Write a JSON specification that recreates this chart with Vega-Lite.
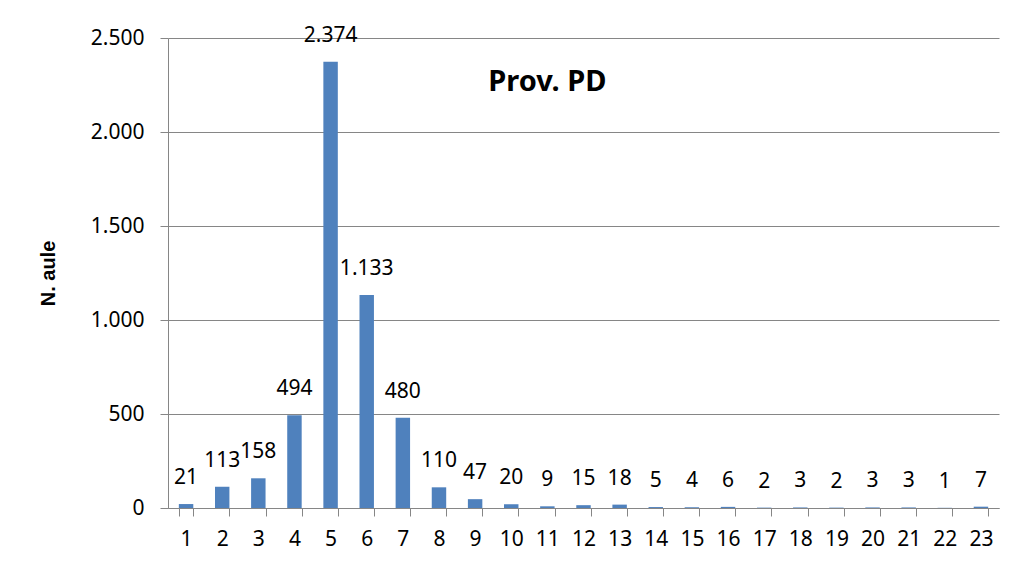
{
  "$schema": "https://vega.github.io/schema/vega-lite/v6.json",
  "width": 831,
  "height": 470,
  "autosize": {"type": "none"},
  "padding": {"left": 168, "top": 38, "right": 14, "bottom": 62},
  "background": "white",
  "config": {
    "locale": {"number": {"decimal": ",", "thousands": ".", "grouping": [3], "currency": ["€", ""]}},
    "view": {"stroke": null},
    "font": "Noto Sans"
  },
  "data": {"values": [
    {"n": 1, "v": 21}, {"n": 2, "v": 113}, {"n": 3, "v": 158}, {"n": 4, "v": 494},
    {"n": 5, "v": 2374}, {"n": 6, "v": 1133}, {"n": 7, "v": 480}, {"n": 8, "v": 110},
    {"n": 9, "v": 47}, {"n": 10, "v": 20}, {"n": 11, "v": 9}, {"n": 12, "v": 15},
    {"n": 13, "v": 18}, {"n": 14, "v": 5}, {"n": 15, "v": 4}, {"n": 16, "v": 6},
    {"n": 17, "v": 2}, {"n": 18, "v": 3}, {"n": 19, "v": 2}, {"n": 20, "v": 3},
    {"n": 21, "v": 3}, {"n": 22, "v": 1}, {"n": 23, "v": 7}
  ]},
  "encoding": {
    "x": {
      "field": "n", "type": "ordinal",
      "scale": {"paddingInner": 0.6, "paddingOuter": 0.3},
      "axis": {
        "title": null, "labelAngle": 0, "tickBand": "extent", "grid": false,
        "domainColor": "#868686", "tickColor": "#868686", "tickSize": 8,
        "labelFontSize": 21, "labelColor": "black", "labelPadding": 12,
        "labelFont": "Noto Sans"
      }
    },
    "y": {
      "field": "v", "type": "quantitative",
      "scale": {"domain": [0, 2500]},
      "axis": {
        "title": "N. aule", "titleFont": "Liberation Sans", "titleFontSize": 20,
        "titleFontWeight": "bold", "titleColor": "black", "titlePadding": 32,
        "values": [0, 500, 1000, 1500, 2000, 2500], "format": ",d",
        "gridColor": "#868686", "domainColor": "#868686", "tickColor": "#868686",
        "tickSize": 8, "labelFontSize": 21, "labelColor": "black", "labelPadding": 16,
        "labelFont": "Noto Sans"
      }
    }
  },
  "layer": [
    {"mark": {"type": "bar", "color": "#4F81BD"}},
    {
      "mark": {"type": "text", "fontSize": 21, "baseline": "alphabetic", "dy": -20, "color": "black"},
      "encoding": {"text": {"field": "v", "type": "quantitative", "format": ",d"}}
    },
    {
      "data": {"values": [{"n": 11, "v": 2266, "t": "Prov. PD"}]},
      "mark": {"type": "text", "fontSize": 29, "fontWeight": "bold", "baseline": "middle", "color": "black"},
      "encoding": {
        "text": {"field": "t", "type": "nominal"}
      }
    }
  ]
}
